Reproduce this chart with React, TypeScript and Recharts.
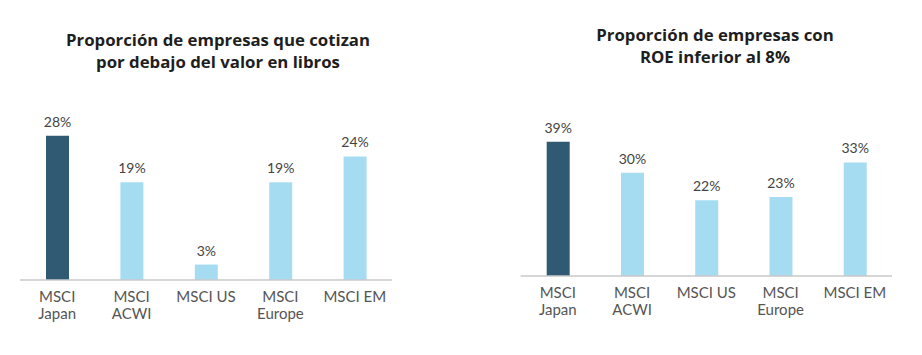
import { Bar, BarChart, XAxis, YAxis, LabelList, Cell } from "recharts";

const categories = ["MSCI Japan", "MSCI ACWI", "MSCI US", "MSCI Europe", "MSCI EM"];
const tickLines = [["MSCI", "Japan"], ["MSCI", "ACWI"], ["MSCI US"], ["MSCI", "Europe"], ["MSCI EM"]];
const belowBookValue = [28, 19, 3, 19, 24];
const roeBelow8 = [39, 30, 22, 23, 33];
const titleLeft = ["Proporción de empresas que cotizan", "por debajo del valor en libros"];
const titleRight = ["Proporción de empresas con", "ROE inferior al 8%"];

const DARK = "#305a73";
const LIGHT = "#a6dcf2";
const FONT = "Lato, 'Open Sans', sans-serif";
const TITLE_FONT = "'Open Sans', Lato, sans-serif";

const CategoryTick = (props: any) => {
  const { x, y, index } = props;
  const lines = tickLines[index] || [categories[index]];
  return (
    <text x={x} y={y} textAnchor="middle" fill="#555" fontSize={15} fontFamily={FONT}>
      {lines.map((l, i) => (
        <tspan key={i} x={x} dy={i === 0 ? 14 : 17}>
          {l}
        </tspan>
      ))}
    </text>
  );
};

interface PanelProps {
  values: number[];
  title: string[];
  left: number;
  width: number;
  margin: { top: number; right: number; left: number; bottom: number };
  axisHeight: number;
  max: number;
  titleX: number;
  titleY: number;
}

const Panel = ({ values, title, left, width, margin, axisHeight, max, titleX, titleY }: PanelProps) => {
  const data = categories.map((c, i) => ({ name: c, value: values[i] }));
  return (
    <div style={{ position: "absolute", left, top: 0, width, height: 355 }}>
      <div
        style={{
          position: "absolute",
          left: titleX - 200,
          width: 400,
          top: titleY,
          textAlign: "center",
          fontFamily: TITLE_FONT,
          fontWeight: 700,
          fontSize: 16.8,
          lineHeight: "22px",
          color: "#1e1e1e",
        }}
      >
        {title.map((t, i) => (
          <div key={i}>{t}</div>
        ))}
      </div>
      <BarChart width={width} height={355} data={data} margin={margin} barSize={23} style={{ position: "absolute", top: 0, left: 0 }}>
        <XAxis
          dataKey="name"
          height={axisHeight}
          interval={0}
          tickLine={false}
          axisLine={{ stroke: "#c8c8c8", strokeWidth: 1.5 }}
          tick={<CategoryTick />}
        />
        <YAxis hide domain={[0, max]} />
        <Bar dataKey="value" isAnimationActive={false}>
          {data.map((_, i) => (
            <Cell key={i} fill={i === 0 ? DARK : LIGHT} />
          ))}
          <LabelList
            dataKey="value"
            position="top"
            offset={9}
            fill="#444"
            fontSize={14}
            fontFamily={FONT}
            formatter={(v: any) => `${v}%`}
          />
        </Bar>
      </BarChart>
    </div>
  );
};

const App = () => {
  return (
    <div style={{ position: "absolute", left: 0, top: 0, width: 922, height: 355, background: "#fff" }}>
      <Panel
        values={belowBookValue}
        title={titleLeft}
        left={0}
        width={420}
        margin={{ top: 125.5, right: 28, left: 20, bottom: 0 }}
        axisHeight={75}
        max={30}
        titleX={218}
        titleY={29}
      />
      <Panel
        values={roeBelow8}
        title={titleRight}
        left={460}
        width={462}
        margin={{ top: 138.4, right: 30, left: 60.7, bottom: 0 }}
        axisHeight={79}
        max={40}
        titleX={255}
        titleY={24}
      />
    </div>
  );
};

export default App;
